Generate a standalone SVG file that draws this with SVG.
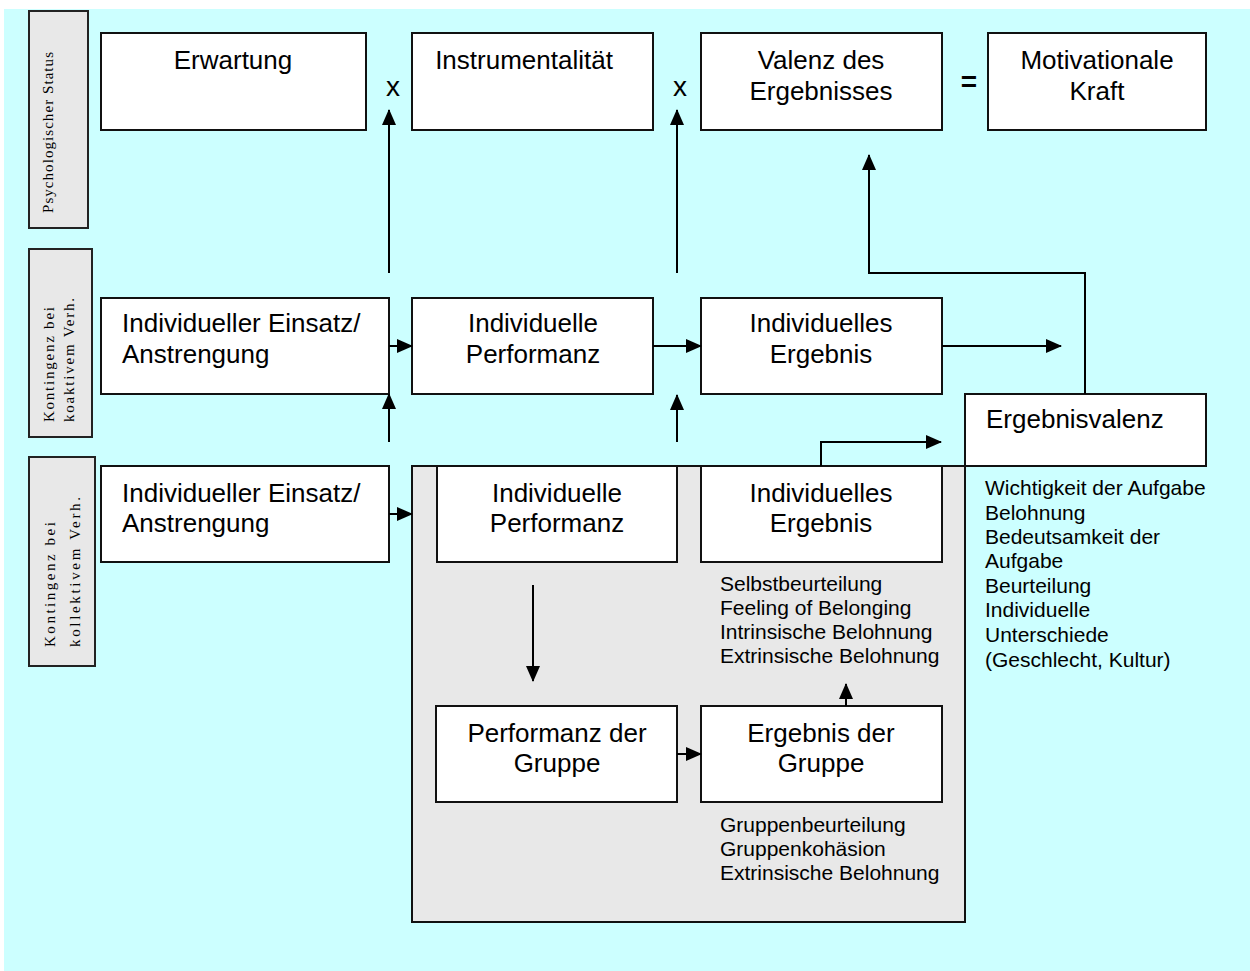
<svg xmlns="http://www.w3.org/2000/svg" width="1250" height="971" viewBox="0 0 1250 971">
<defs>
<marker id="ah" markerWidth="16" markerHeight="14" refX="15" refY="7" orient="auto" markerUnits="userSpaceOnUse">
<path d="M0,0 L16,7 L0,14 Z" fill="#000"/>
</marker>
<style>
.box{fill:#fff;stroke:#111;stroke-width:2}
.lab{fill:#e8e8e8;stroke:#222;stroke-width:2}
.grp{fill:#e8e8e8;stroke:#111;stroke-width:2}
.t{font-family:"Liberation Sans",Arial,sans-serif;font-size:26px;fill:#000}
.c{text-anchor:middle}
.s{font-family:"Liberation Sans",Arial,sans-serif;font-size:21px;fill:#000}
.v{font-family:"Liberation Serif","DejaVu Serif",serif;font-size:15px;fill:#000}
.ln{fill:none;stroke:#000;stroke-width:2}
</style>
</defs>
<rect x="0" y="0" width="1250" height="971" fill="#fff"/>
<rect x="4" y="9" width="1246" height="962" fill="#ccffff"/>

<g id="label-psych">
<rect class="lab" x="29" y="11" width="59" height="217"/>
<text class="v" transform="translate(53,213) rotate(-90)" textLength="161" lengthAdjust="spacing">Psychologischer Status</text>
</g>
<g id="label-koaktiv">
<rect class="lab" x="29" y="249" width="63" height="188"/>
<text class="v" transform="translate(54,422) rotate(-90)" textLength="115" lengthAdjust="spacing">Kontingenz bei</text>
<text class="v" transform="translate(74,422) rotate(-90)" textLength="124" lengthAdjust="spacing">koaktivem Verh.</text>
</g>
<g id="label-kollektiv">
<rect class="lab" x="29" y="457" width="66" height="209"/>
<text class="v" transform="translate(55,647) rotate(-90)" textLength="125" lengthAdjust="spacing">Kontingenz bei</text>
<text class="v" transform="translate(80,647) rotate(-90)" textLength="150" lengthAdjust="spacing">kollektivem Verh.</text>
</g>

<g id="group-area">
<rect class="grp" x="412" y="466" width="553" height="456"/>
</g>

<g id="erwartung"><rect class="box" x="101" y="33" width="265" height="97"/><text class="t c" x="233" y="69">Erwartung</text></g>
<g id="instrumentalitaet"><rect class="box" x="412" y="33" width="241" height="97"/><text class="t c" x="524" y="69">Instrumentalität</text></g>
<g id="valenz"><rect class="box" x="701" y="33" width="241" height="97"/><text class="t c" x="821" y="69">Valenz des</text><text class="t c" x="821" y="100">Ergebnisses</text></g>
<g id="motivation"><rect class="box" x="988" y="33" width="218" height="97"/><text class="t c" x="1097" y="69">Motivationale</text><text class="t c" x="1097" y="100">Kraft</text></g>
<g id="ops">
<text class="t c" x="393" y="96" style="font-size:28px">x</text>
<text class="t c" x="680" y="96" style="font-size:28px">x</text>
<text class="t c" x="969" y="91" style="font-size:28px;font-weight:bold">=</text>
</g>

<g id="einsatz-koaktiv"><rect class="box" x="101" y="298" width="288" height="96"/><text class="t" x="122" y="332">Individueller Einsatz/</text><text class="t" x="122" y="363">Anstrengung</text></g>
<g id="performanz-koaktiv"><rect class="box" x="412" y="298" width="241" height="96"/><text class="t c" x="533" y="332">Individuelle</text><text class="t c" x="533" y="363">Performanz</text></g>
<g id="ergebnis-koaktiv"><rect class="box" x="701" y="298" width="241" height="96"/><text class="t c" x="821" y="332">Individuelles</text><text class="t c" x="821" y="363">Ergebnis</text></g>
<g id="ergebnisvalenz"><rect class="box" x="965" y="394" width="241" height="72"/><text class="t" x="986" y="428">Ergebnisvalenz</text></g>
<g id="valenz-faktoren">
<text class="s" x="985" y="495">Wichtigkeit der Aufgabe</text>
<text class="s" x="985" y="520">Belohnung</text>
<text class="s" x="985" y="544">Bedeutsamkeit der</text>
<text class="s" x="985" y="568">Aufgabe</text>
<text class="s" x="985" y="593">Beurteilung</text>
<text class="s" x="985" y="617">Individuelle</text>
<text class="s" x="985" y="642">Unterschiede</text>
<text class="s" x="985" y="667">(Geschlecht, Kultur)</text>
</g>

<g id="einsatz-kollektiv"><rect class="box" x="101" y="466" width="288" height="96"/><text class="t" x="122" y="502">Individueller Einsatz/</text><text class="t" x="122" y="532">Anstrengung</text></g>
<g id="performanz-kollektiv"><rect class="box" x="437" y="466" width="240" height="96"/><text class="t c" x="557" y="502">Individuelle</text><text class="t c" x="557" y="532">Performanz</text></g>
<g id="ergebnis-kollektiv"><rect class="box" x="701" y="466" width="241" height="96"/><text class="t c" x="821" y="502">Individuelles</text><text class="t c" x="821" y="532">Ergebnis</text></g>
<g id="ind-faktoren">
<text class="s" x="720" y="591">Selbstbeurteilung</text>
<text class="s" x="720" y="615">Feeling of Belonging</text>
<text class="s" x="720" y="639">Intrinsische Belohnung</text>
<text class="s" x="720" y="663">Extrinsische Belohnung</text>
</g>
<g id="performanz-gruppe"><rect class="box" x="436" y="706" width="241" height="96"/><text class="t c" x="557" y="742">Performanz der</text><text class="t c" x="557" y="772">Gruppe</text></g>
<g id="ergebnis-gruppe"><rect class="box" x="701" y="706" width="241" height="96"/><text class="t c" x="821" y="742">Ergebnis der</text><text class="t c" x="821" y="772">Gruppe</text></g>
<g id="gruppen-faktoren">
<text class="s" x="720" y="832">Gruppenbeurteilung</text>
<text class="s" x="720" y="856">Gruppenkohäsion</text>
<text class="s" x="720" y="880">Extrinsische Belohnung</text>
</g>

<g id="connectors">
<line class="ln" x1="389" y1="273" x2="389" y2="110" marker-end="url(#ah)"/>
<line class="ln" x1="677" y1="273" x2="677" y2="110" marker-end="url(#ah)"/>
<polyline class="ln" points="1085,394 1085,273 869,273 869,155" marker-end="url(#ah)"/>
<line class="ln" x1="389" y1="346" x2="412" y2="346" marker-end="url(#ah)"/>
<line class="ln" x1="653" y1="346" x2="701" y2="346" marker-end="url(#ah)"/>
<line class="ln" x1="942" y1="346" x2="1061" y2="346" marker-end="url(#ah)"/>
<line class="ln" x1="389" y1="442" x2="389" y2="394" marker-end="url(#ah)"/>
<line class="ln" x1="677" y1="442" x2="677" y2="395" marker-end="url(#ah)"/>
<line class="ln" x1="389" y1="514" x2="412" y2="514" marker-end="url(#ah)"/>
<polyline class="ln" points="821,466 821,442 941,442" marker-end="url(#ah)"/>
<line class="ln" x1="533" y1="585" x2="533" y2="681" marker-end="url(#ah)"/>
<line class="ln" x1="677" y1="754" x2="701" y2="754" marker-end="url(#ah)"/>
<line class="ln" x1="846" y1="706" x2="846" y2="684" marker-end="url(#ah)"/>
</g>
</svg>
